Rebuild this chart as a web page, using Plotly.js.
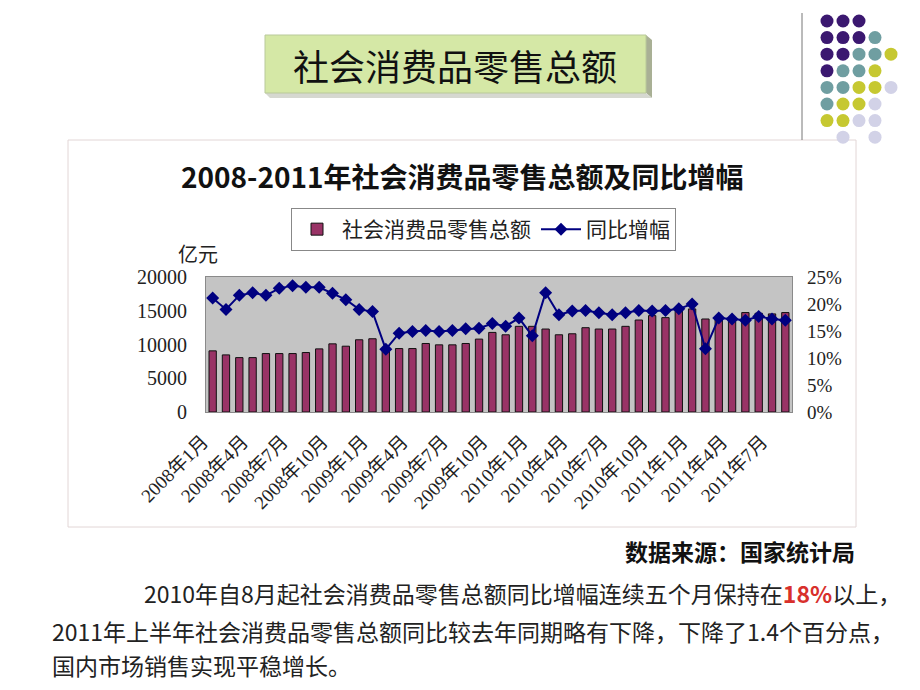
<!DOCTYPE html>
<html>
<head>
<meta charset="utf-8">
<script src="https://cdn.plot.ly/plotly-3.0.1.min.js"></script>
<style>
html,body{margin:0;padding:0;background:#fff;}
#chart{width:920px;height:690px;}
</style>
</head>
<body>
<div id="chart"></div>
<script>
// monthly data
var months = ["2008年1月","2008年2月","2008年3月","2008年4月","2008年5月","2008年6月","2008年7月","2008年8月","2008年9月","2008年10月","2008年11月","2008年12月",
  "2009年1月","2009年2月","2009年3月","2009年4月","2009年5月","2009年6月","2009年7月","2009年8月","2009年9月","2009年10月","2009年11月","2009年12月",
  "2010年1月","2010年2月","2010年3月","2010年4月","2010年5月","2010年6月","2010年7月","2010年8月","2010年9月","2010年10月","2010年11月","2010年12月",
  "2011年1月","2011年2月","2011年3月","2011年4月","2011年5月","2011年6月","2011年7月","2011年8月"];
var tickMonths = ["2008年1月","2008年4月","2008年7月","2008年10月","2009年1月","2009年4月","2009年7月","2009年10月",
  "2010年1月","2010年4月","2010年7月","2010年10月","2011年1月","2011年4月","2011年7月"];
var sales = [9060,8460,8060,8060,8660,8660,8660,8810,9350,10100,9750,10700,
  10850,9200,9400,9400,10150,9950,9950,10150,10800,11790,11440,12690,
  12690,12290,11440,11590,12490,12290,12290,12690,13630,14280,13980,15270,
  15270,13780,13630,13630,14730,14630,14530,14730];
var growth = [21.1,19.0,21.6,22.1,21.6,22.9,23.4,23.1,23.1,22.0,20.8,19.0,
  18.6,11.6,14.6,14.9,15.1,14.9,15.1,15.4,15.5,16.4,15.9,17.4,
  14.1,22.1,18.0,18.7,18.8,18.4,18.0,18.4,18.8,18.7,18.8,19.1,
  20.0,11.7,17.4,17.2,17.0,17.7,17.2,17.0];

// plot area in page pixels, used to place the page decorations
var L=206, R=792, T=277, B=412;
function fx(x){return (x-L)/(R-L);}
function fy(y){return (B-y)/(B-T);}
function pt(x,y){return fx(x)+","+fy(y);}

var shapes = [];
function rectPx(x0,y0,x1,y1,fill,line,lw){
  shapes.push({type:"rect",xref:"paper",yref:"paper",x0:fx(x0),x1:fx(x1),y0:fy(y1),y1:fy(y0),
    fillcolor:fill,line:{color:line||"rgba(0,0,0,0)",width:lw||0},layer:"below"});
}
function linePx(x0,y0,x1,y1,color){
  shapes.push({type:"line",xref:"paper",yref:"paper",x0:fx(x0),x1:fx(x1),y0:fy(y0),y1:fy(y1),line:{color:color,width:1}});
}

// chart frame
rectPx(68,140,856,527,"rgba(0,0,0,0)","#e2d6d6",1);
// title box with 3d edge
shapes.push({type:"path",xref:"paper",yref:"paper",path:"M"+pt(646,35)+" L"+pt(652,40)+" L"+pt(652,98)+" L"+pt(646,93)+" Z",
  fillcolor:"#a9b095",line:{width:0},layer:"below"});
shapes.push({type:"path",xref:"paper",yref:"paper",path:"M"+pt(265,93)+" L"+pt(646,93)+" L"+pt(652,98)+" L"+pt(270,98)+" Z",
  fillcolor:"#d6d8d0",line:{width:0},layer:"below"});
rectPx(265,35,646,93,"#d5e8a6","#b9c99a",1);

// corner decoration
linePx(802,13,802,140,"#777");
var dotRows = ["PPP","PPPT","PPTTY","PTTY","TTYYL","TYYL","YYLL"," L L"];
var dotColors = {P:"#3b1870",T:"#6f9ea1",Y:"#c6c831",L:"#d2d2e7"};
dotRows.forEach(function(row,r){
  for(var c=0;c<row.length;c++){
    var ch=row.charAt(c); if(ch===" ") continue;
    var cx=827+16*c, cy=21+16.6*r, rad=6.5;
    shapes.push({type:"circle",xref:"paper",yref:"paper",x0:fx(cx-rad),x1:fx(cx+rad),y0:fy(cy+rad),y1:fy(cy-rad),
      fillcolor:dotColors[ch],line:{width:0},layer:"below"});
  }
});

var annotations = [];
function textPx(x,y,text,font,anchor){
  annotations.push({xref:"paper",yref:"paper",x:fx(x),y:fy(y),text:text,showarrow:false,
    xanchor:anchor||"center",yanchor:"middle",font:font});
}
var cjk = "Noto Sans CJK SC";
textPx(455,65,"社会消费品零售总额",{family:cjk,size:36,color:"#111"});
textPx(462,176,"<b>2008-2011年社会消费品零售总额及同比增幅</b>",{family:cjk,size:28,color:"#111"});
textPx(198,255,"亿元",{family:"Liberation Serif, "+cjk,size:20,color:"#222"});
textPx(857,551,"<b>数据来源：国家统计局</b>",{family:cjk,size:23,color:"#111"},"right");
textPx(142,593,"2010年自8月起社会消费品零售总额同比增幅连续五个月保持在<span style='color:#d8302c'><b>18%</b></span>以上，",{family:cjk,size:23,color:"#222"},"left");
textPx(50,631,"2011年上半年社会消费品零售总额同比较去年同期略有下降，下降了1.4个百分点，",{family:cjk,size:23,color:"#222"},"left");
textPx(50,665,"国内市场销售实现平稳增长。",{family:cjk,size:23,color:"#222"},"left");

var serif = "Liberation Serif, "+cjk;
var traces = [
  {type:"bar",x:months,y:sales,name:"社会消费品零售总额",
   marker:{color:"#993366",line:{color:"#111",width:1}}},
  {type:"scatter",mode:"lines+markers",x:months,y:growth,yaxis:"y2",name:"同比增幅",
   line:{color:"#000080",width:2},marker:{symbol:"diamond",size:10,color:"#000080"}}
];

var layout = {
  width:920,height:690,
  margin:{l:L,r:920-R,t:T,b:690-B,pad:0},
  paper_bgcolor:"#fff",plot_bgcolor:"#c4c4c4",
  bargap:0.45,
  showlegend:true,
  legend:{orientation:"h",x:fx(291),y:fy(208),xanchor:"left",yanchor:"top",
    bordercolor:"#888",borderwidth:1,bgcolor:"#fff",itemwidth:40,
    font:{family:cjk,size:21,color:"#222"},traceorder:"normal"},
  xaxis:{type:"category",range:[-0.5,months.length-0.5],tickmode:"array",tickvals:tickMonths,ticktext:tickMonths,tickangle:-45,
    tickfont:{family:serif,size:19,color:"#222"},showgrid:false,ticklabelstandoff:10,ticklabelshift:-10,
    showline:true,mirror:true,linecolor:"#8a8a8a",linewidth:1,ticks:""},
  yaxis:{range:[0,20000],dtick:5000,tickformat:"d",showgrid:false,zeroline:false,
    tickfont:{family:serif,size:20,color:"#222"},ticklabelstandoff:14,
    showline:true,mirror:true,linecolor:"#8a8a8a",linewidth:1},
  yaxis2:{range:[0,25],dtick:5,ticksuffix:"%",overlaying:"y",side:"right",showgrid:false,zeroline:false,
    tickfont:{family:serif,size:19,color:"#222"},ticklabelstandoff:14},
  shapes:shapes,
  annotations:annotations
};

Plotly.newPlot("chart",traces,layout,{displayModeBar:false,staticPlot:true});
</script>
</body>
</html>
